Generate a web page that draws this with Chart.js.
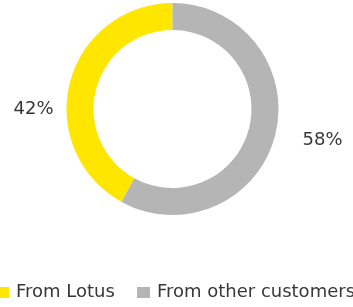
<!DOCTYPE html>
<html>
<head>
<meta charset="utf-8">
<script src="https://cdn.jsdelivr.net/npm/chart.js@4.4.0/dist/chart.umd.min.js"></script>
<style>
  html, body { margin: 0; padding: 0; background: #fff; }
  body { width: 353px; height: 307px; position: relative; overflow: hidden;
         font-family: 'DejaVu Sans', sans-serif; color: #383838; }
  #wrap { position: absolute; left: 0; top: 0; width: 353px; height: 307px; }
  #legend { position: absolute; left: -4px; top: 281px; display: flex; align-items: center;
            font-size: 18px; line-height: 20px; white-space: nowrap; }
  #legend .item { display: flex; align-items: center; margin-right: 22px; }
  #legend .box { width: 13px; height: 11px; margin-right: 7px; margin-top: 3px; }
</style>
</head>
<body>
<div id="wrap"><canvas id="revenueChart"></canvas></div>
<div id="legend"></div>
<script>
const categories = ['From Lotus', 'From other customers'];
const shares = [42, 58];
const sliceColors = ['#FFE600', '#B5B5B5'];

document.addEventListener('DOMContentLoaded', () => {

  // ── Percentage labels beside the ring ─────────────
  const pctLabels = {
    id: 'pctLabels',
    afterDraw(chart) {
      const { ctx } = chart;
      const arc = chart.getDatasetMeta(0).data[0];
      if (!arc) return;
      const cx = arc.x, cy = arc.y, r = arc.outerRadius;
      ctx.save();
      ctx.font = "18px 'DejaVu Sans', sans-serif";
      ctx.fillStyle = '#383838';
      ctx.textBaseline = 'middle';
      // left slice label
      ctx.textAlign = 'right';
      ctx.fillText(shares[0] + '%', cx - r - 13, cy);
      // right slice label
      ctx.textAlign = 'left';
      ctx.fillText(shares[1] + '%', cx + r + 24, cy + 31);
      ctx.restore();
    }
  };

  const ctx = document.getElementById('revenueChart');
  new Chart(ctx, {
    type: 'doughnut',
    data: {
      labels: categories,
      datasets: [{
        data: shares,
        backgroundColor: sliceColors,
        borderWidth: 0,
        hoverOffset: 0
      }]
    },
    options: {
      responsive: true,
      maintainAspectRatio: false,
      animation: false,
      cutout: '74.5%',
      rotation: 360 * shares[1] / (shares[0] + shares[1]),
      layout: { padding: { left: 66.5, right: 74.5, top: 3, bottom: 92 } },
      plugins: { legend: { display: false }, tooltip: { enabled: false } }
    },
    plugins: [pctLabels]
  });

  // ── HTML legend ───────────────────────────────────
  const legend = document.getElementById('legend');
  categories.forEach((label, i) => {
    const item = document.createElement('div');
    item.className = 'item';
    const box = document.createElement('span');
    box.className = 'box';
    box.style.background = sliceColors[i];
    const txt = document.createElement('span');
    txt.textContent = label;
    item.appendChild(box);
    item.appendChild(txt);
    legend.appendChild(item);
  });
});
</script>
</body>
</html>
